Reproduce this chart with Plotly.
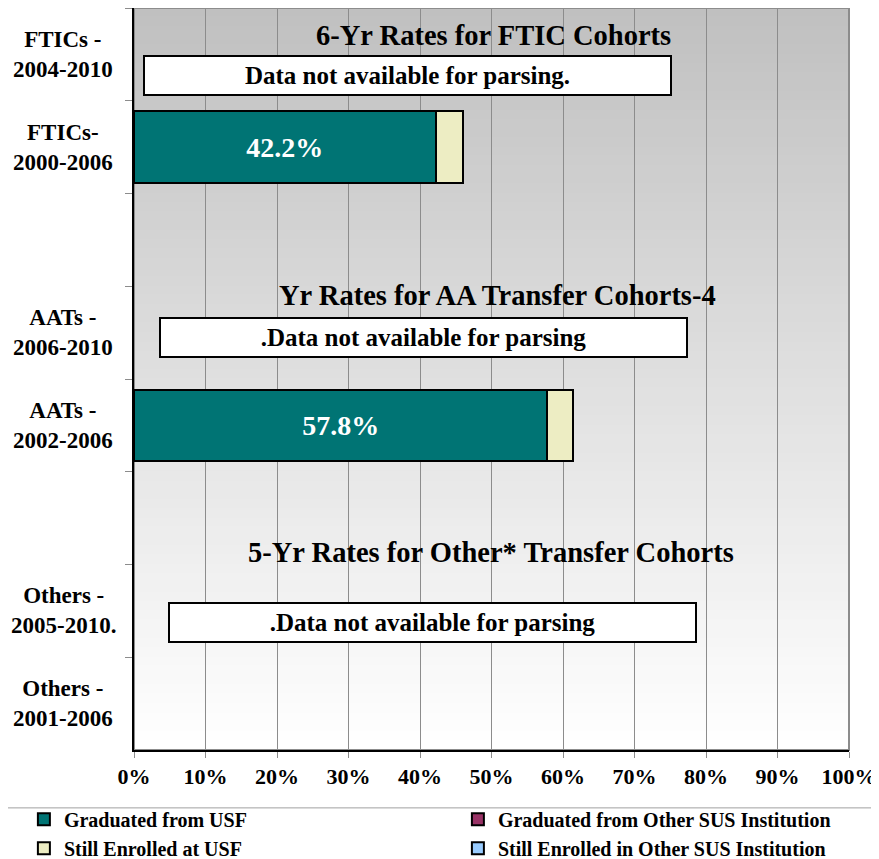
import plotly.graph_objects as go

# categories top to bottom (blank rows are the spacer slots)
categories = ["FTICs - 2004-2010", "FTICs-2000-2006", " ",
              "AATs - 2006-2010", "AATs - 2002-2006", "  ",
              "Others - 2005-2010.", "Others - 2001-2006"]
cat_labels = ["FTICs -<br>2004-2010", "FTICs-<br>2000-2006", "",
              "AATs -<br>2006-2010", "AATs -<br>2002-2006", "",
              "Others -<br>2005-2010.", "Others -<br>2001-2006"]

grad_usf = [None, 42.2, None, None, 57.8, None, None, None]
grad_other = [None, 0, None, None, 0, None, None, None]
still_usf = [None, 3.8, None, None, 3.6, None, None, None]
still_other = [None, 0, None, None, 0, None, None, None]

section_titles = ["6-Yr Rates for FTIC Cohorts",
                  "Yr Rates for AA Transfer Cohorts-4",
                  "5-Yr Rates for Other* Transfer Cohorts"]
notes = ["Data not available for parsing.",
         ".Data not available for parsing",
         ".Data not available for parsing"]

FONT = "Liberation Serif, Times New Roman, serif"

fig = go.Figure()

def add(name, vals, color, legend, label=False):
    fig.add_trace(go.Bar(
        y=categories, x=vals, orientation="h", name=name, legend=legend,
        marker=dict(color=color, line=dict(color="black", width=2)),
        texttemplate="%{x:.1f}%" if label else None,
        textposition="inside" if label else "none",
        insidetextanchor="middle",
        textfont=dict(color="white", size=28, family=FONT, weight="bold"),
        hoverinfo="skip",
    ))

# stacking order: USF grads, other SUS grads, still at USF, still at other SUS
add("Graduated from USF", grad_usf, "#007474", "legend", label=True)
add("Graduated from Other SUS Institution", grad_other, "#993366", "legend2")
add("Still Enrolled at USF", still_usf, "#EDEDC3", "legend")
add("Still Enrolled in Other SUS Institution", still_other, "#99CCFF", "legend2")

# gradient plot background
shapes = []
n = 80
for i in range(n):
    v = int(round(192 + (255 - 192) * i / (n - 1)))
    shapes.append(dict(type="rect", xref="x domain", yref="y domain",
                       x0=0, x1=1, y0=1 - (i + 1) / n, y1=1 - i / n + 0.001,
                       fillcolor=f"rgb({v},{v},{v})", line=dict(width=0),
                       layer="below"))
shapes.append(dict(type="rect", xref="x domain", yref="y domain",
                   x0=0, x1=1, y0=0, y1=1, line=dict(color="#8c8c8c", width=2),
                   layer="below"))
# legend frame
shapes.append(dict(type="rect", xref="paper", yref="paper",
                   x0=-0.1804, x1=1.0364, y0=-0.2, y1=-0.078,
                   line=dict(color="#a0a0a0", width=1)))

annotations = []
for cat, lab in zip(categories, cat_labels):
    if lab:
        annotations.append(dict(text=lab, xref="paper", yref="y", x=-0.099, y=cat,
                                xanchor="center", yanchor="middle", align="center",
                                showarrow=False,
                                font=dict(family=FONT, size=23, color="black", weight="bold")))

title_pos = [(50.3, 0.9636), (50.8, 0.6132), (49.9, 0.2655)]
for t, (x, y) in zip(section_titles, title_pos):
    annotations.append(dict(text=t, xref="x", yref="paper", x=x, y=y,
                            xanchor="center", yanchor="middle", showarrow=False,
                            font=dict(family=FONT, size=28.5, color="black", weight="bold")))

note_pos = [(38.25, 0.909), (40.5, 0.5553), (41.8, 0.1712)]
for t, (x, y) in zip(notes, note_pos):
    annotations.append(dict(text=t, xref="x", yref="paper", x=x, y=y,
                            xanchor="center", yanchor="middle", showarrow=False,
                            width=525, height=37, bgcolor="white",
                            bordercolor="black", borderwidth=2, borderpad=0,
                            font=dict(family=FONT, size=25, color="black", weight="bold")))

legend_style = dict(orientation="v", yanchor="top", y=-0.067, xanchor="left",
                    tracegroupgap=0, traceorder="normal",
                    font=dict(size=20, family=FONT, weight="bold"),
                    bgcolor="rgba(0,0,0,0)", borderwidth=0)

fig.update_layout(
    width=871, height=851,
    margin=dict(l=126, r=30, t=0, b=109, autoexpand=False),
    barmode="stack", bargap=0.23,
    paper_bgcolor="white", plot_bgcolor="rgba(0,0,0,0)",
    font=dict(family=FONT, color="black", weight="bold"),
    shapes=shapes, annotations=annotations,
    xaxis=dict(range=[0, 100], dtick=10, ticksuffix="%", showgrid=True,
               gridcolor="#8c8c8c", gridwidth=1, zeroline=False,
               showline=True, linecolor="black", linewidth=2,
               ticks="outside", ticklen=6, tickcolor="#8c8c8c",
               tickfont=dict(size=22, family=FONT, weight="bold")),
    yaxis=dict(categoryorder="array", categoryarray=categories,
               autorange="reversed", showticklabels=False, showgrid=False,
               showline=True, linecolor="black", linewidth=2,
               ticks="outside", ticklen=7, tickcolor="#8c8c8c",
               tickson="boundaries"),
    legend=dict(x=-0.154, **legend_style),
    legend2=dict(x=0.453, **legend_style),
)

fig.write_html("out.html")
